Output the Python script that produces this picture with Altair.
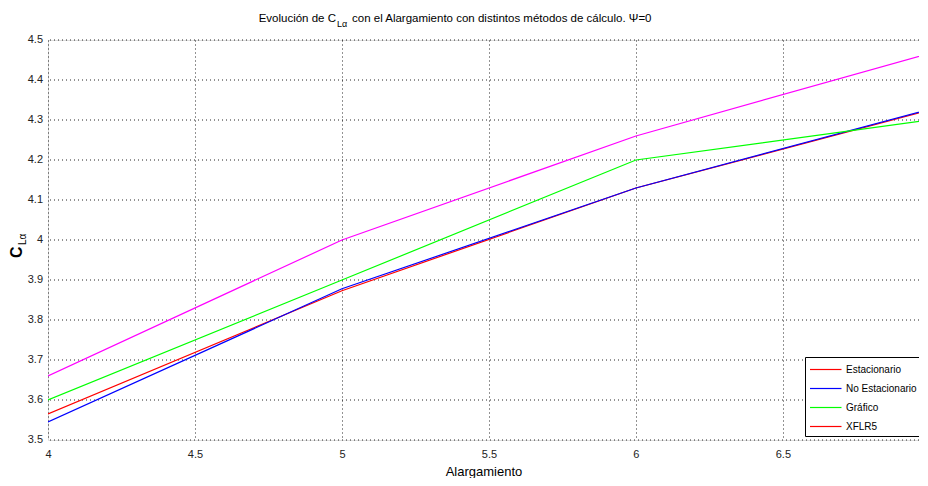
import altair as alt
import pandas as pd

alargamiento = [4, 5, 6, 7]
estacionario = [3.565, 3.873, 4.13, 4.325]
no_estacionario = [3.545, 3.878, 4.13, 4.327]
grafico = [3.60, 3.90, 4.20, 4.30]
xflr5 = [3.66, 4.00, 4.26, 4.467]

legend_names = ["Estacionario", "No Estacionario", "Gráfico", "XFLR5"]
legend_colors = ["#ff0000", "#0000ff", "#00ff00", "#ff0000"]

x_ticks = [4, 4.5, 5, 5.5, 6, 6.5, 7]
y_ticks = [3.5, 3.6, 3.7, 3.8, 3.9, 4.0, 4.1, 4.2, 4.3, 4.4, 4.5]

FONT = "Liberation Sans, Arial, sans-serif"
W, H = 871, 400

rows = []
for name, vals in zip(["Estacionario", "No Estacionario", "Gráfico"],
                      [estacionario, no_estacionario, grafico]):
    for xv, yv in zip(alargamiento, vals):
        rows.append({"A": xv, "C": yv, "serie": name})
df = pd.DataFrame(rows)
df_m = pd.DataFrame({"A": alargamiento, "C": xflr5})
df_y = pd.DataFrame({"v": y_ticks})

xsc = alt.Scale(domain=[4, 6.963], nice=False, zero=False)
ysc = alt.Scale(domain=[3.5, 4.5], nice=False, zero=False)

xaxis = alt.Axis(values=x_ticks, title="Alargamiento", format="~g", labelFont=FONT, labelFontSize=11,
                 titleFont=FONT, titleFontSize=13, titleFontWeight="normal",
                 grid=True, gridDash=[1, 3], gridColor="#000", gridOpacity=0.85,
                 ticks=False, domain=False, labelColor="#222", titleColor="#000",
                 labelPadding=8, titlePadding=6, labelOverlap=False, labelFlush=False)
yaxis = alt.Axis(title=None, labels=False, grid=False, ticks=False, domain=False)

# horizontal grid lines at every y tick
ygrid = alt.Chart(df_y).mark_rule(color="#000", opacity=0.85, strokeDash=[1, 3], strokeWidth=1).encode(
    y=alt.Y("v:Q", scale=ysc, axis=yaxis),
)
# y tick labels
ylab = alt.Chart(df_y).mark_text(font=FONT, fontSize=11, align="right", baseline="middle",
                                 color="#222", dx=-5).encode(
    y=alt.Y("v:Q", scale=ysc, axis=yaxis),
    x=alt.value(0),
    text=alt.Text("v:Q", format="~g"),
)

base_m = alt.Chart(df_m).mark_line(color="#ff00ff", strokeWidth=1.2, clip=True).encode(
    x=alt.X("A:Q", scale=xsc, axis=xaxis),
    y=alt.Y("C:Q", scale=ysc, axis=yaxis),
)

lines = alt.Chart(df).mark_line(strokeWidth=1.2, clip=True).encode(
    x=alt.X("A:Q", scale=xsc, axis=xaxis),
    y=alt.Y("C:Q", scale=ysc, axis=yaxis),
    color=alt.Color("serie:N",
                    scale=alt.Scale(domain=legend_names, range=legend_colors),
                    sort=legend_names,
                    legend=alt.Legend(title=None, orient="none", legendX=757, legendY=317,
                                      values=legend_names, symbolType="M-1,0H3.2",
                                      symbolSize=225, symbolStrokeWidth=1.2,
                                      labelFont=FONT, labelFontSize=10, labelColor="#000",
                                      strokeColor="#000", fillColor="#fff", padding=4,
                                      rowPadding=5, labelOffset=20)),
    order=alt.Order("serie:N"),
)

t1 = alt.Chart(pd.DataFrame({"t": ["Evolución de C"]})).mark_text(
    font=FONT, fontSize=11.5, align="right", baseline="alphabetic", color="#000").encode(
    text="t:N", x=alt.value(288), y=alt.value(-18))
t2 = alt.Chart(pd.DataFrame({"t": ["Lα"]})).mark_text(
    font=FONT, fontSize=9, align="left", baseline="alphabetic", color="#000").encode(
    text="t:N", x=alt.value(289), y=alt.value(-13))
t3 = alt.Chart(pd.DataFrame({"t": ["con el Alargamiento con distintos métodos de cálculo. Ψ=0"]})).mark_text(
    font=FONT, fontSize=11.5, align="left", baseline="alphabetic", color="#000").encode(
    text="t:N", x=alt.value(304), y=alt.value(-18))
y1 = alt.Chart(pd.DataFrame({"t": ["C"]})).mark_text(
    font=FONT, fontSize=16, fontWeight="bold", align="left", baseline="alphabetic", angle=270,
    color="#000").encode(text="t:N", x=alt.value(-26), y=alt.value(218))
y2 = alt.Chart(pd.DataFrame({"t": ["Lα"]})).mark_text(
    font=FONT, fontSize=10, align="left", baseline="alphabetic", angle=270,
    color="#000").encode(text="t:N", x=alt.value(-22), y=alt.value(205))

chart = alt.layer(ygrid, ylab, base_m, lines, t1, t2, t3, y1, y2).properties(
    width=W, height=H,
    autosize=alt.AutoSizeParams(type="none"),
    padding={"left": 40, "top": 32, "right": 0, "bottom": 38},
).configure_view(stroke="#000", strokeWidth=1).configure(background="#fff")

chart.save("out.html", embed_options={"renderer": "svg", "actions": False})
